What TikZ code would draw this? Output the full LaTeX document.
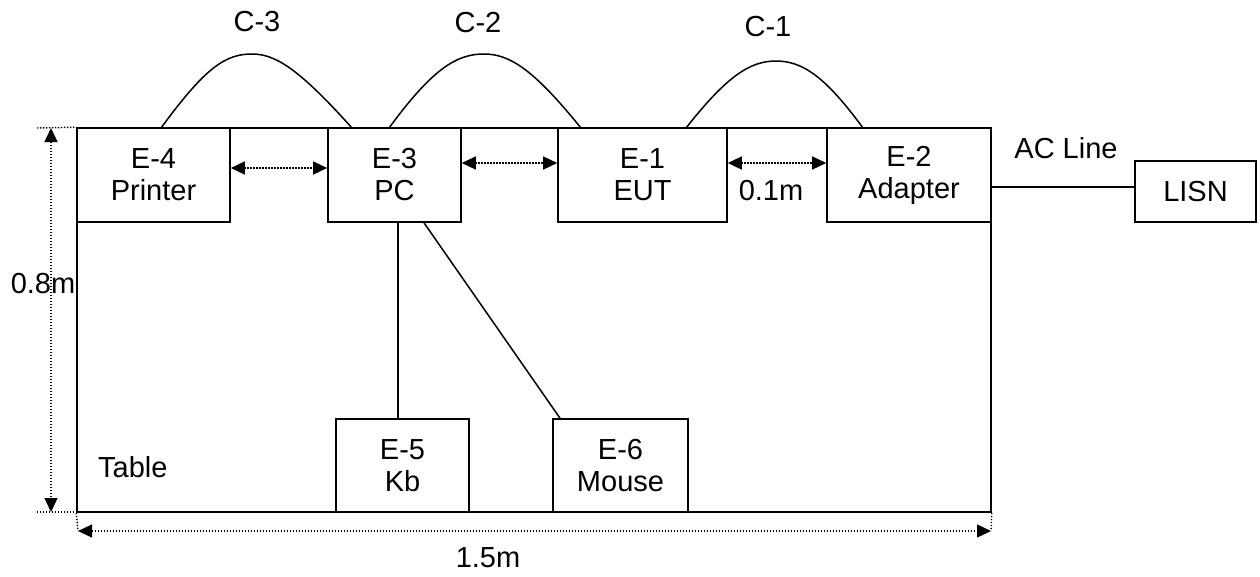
\documentclass[tikz,border=0pt]{standalone}
\usepackage{fontspec}
\setmainfont{Liberation Sans}
\usetikzlibrary{arrows.meta}
\begin{document}
\begin{tikzpicture}[x=1pt,y=-1pt,
  txt/.style={font=\fontsize{29}{32}\selectfont},
  box/.style={draw,line width=1.6pt,inner sep=0pt,align=center,txt},
  lbl/.style={inner sep=0pt,txt},
  dimline/.style={line width=1.4pt,dash pattern=on 1.4pt off 1.6pt},
  dimarrow/.style={dimline,{Triangle[length=14pt,width=13pt]}-{Triangle[length=14pt,width=13pt]}},
  cable/.style={line width=1.5pt}]
\useasboundingbox (0,0) rectangle (1260,576);
% table
\node[draw,line width=1.6pt,minimum width=914pt,minimum height=384pt,inner sep=0pt] (table) at (534,320) {};
% equipment boxes
\node[box,minimum width=153pt,minimum height=94pt] (e4) at (153.5,175) {E-4\\Printer};
\node[box,minimum width=133pt,minimum height=94pt] (e3) at (394.5,175) {E-3\\PC};
\node[box,minimum width=169pt,minimum height=94pt] (e1) at (642.5,175) {E-1\\EUT};
\node[box,minimum width=164pt,minimum height=94pt] (e2) at (909,175) {E-2\\Adapter};
\node[box,minimum width=121pt,minimum height=61pt] (lisn) at (1195.5,191.5) {LISN};
\node[box,minimum width=133pt,minimum height=93pt] (e5) at (402.5,465.5) {E-5\\Kb};
\node[box,minimum width=135pt,minimum height=93pt] (e6) at (620.5,465.5) {E-6\\Mouse};
% spacing arrows
\draw[dimarrow] ([yshift=7pt]e4.east) -- ([yshift=7pt]e3.west);
\draw[dimarrow] ([yshift=12pt]e3.east) -- ([yshift=12pt]e1.west);
\draw[dimarrow] ([yshift=12pt]e1.east) -- ([yshift=12pt]e2.west);
\node[lbl] (d01) at (771,191) {0.1m};
% keyboard / mouse cables
\draw[cable] ([xshift=3.5pt]e3.south) -- ([xshift=-4.5pt]e5.north);
\draw[cable] ([xshift=29.5pt]e3.south) -- ([xshift=-60.5pt]e6.north);
% AC line
\draw[cable] ([yshift=-12pt]e2.east) coordinate (acA) -- (acA -| lisn.west);
\node[lbl] (acl) at (1066,148) {AC Line};
% cables C-3, C-2, C-1
\coordinate (c3a) at (161,128); \coordinate (c3p) at (252,54); \coordinate (c3b) at (352,128);
\coordinate (c2a) at (389,128); \coordinate (c2p) at (484,54); \coordinate (c2b) at (581,128);
\coordinate (c1a) at (686,128); \coordinate (c1p) at (776,61); \coordinate (c1b) at (863,128);
\draw[cable] (c3a) .. controls (205,68) and (225,54) .. (c3p) .. controls (276,54) and (300,70) .. (c3b);
\draw[cable] (c2a) .. controls (433,68) and (457,54) .. (c2p) .. controls (510,54) and (534,70) .. (c2b);
\draw[cable] (c1a) .. controls (727,76) and (750,61) .. (c1p) .. controls (802,61) and (825,76) .. (c1b);
\node[lbl] (lc3) at (257,22) {C-3};
\node[lbl] (lc2) at (478,23) {C-2};
\node[lbl] (lc1) at (768,27) {C-1};
% height dimension
\coordinate (h1) at (37,128); \coordinate (h2) at (37,512); \coordinate (h3) at (107,512);
\draw[dimline] (h1) -- (table.north west);
\draw[dimline] (h2) -- (h3);
\coordinate (ha) at (51,128); \coordinate (hb) at (51,512);
\draw[dimarrow] (ha) -- (hb);
\node[lbl] (l08) at (43,284) {0.8m};
% width dimension
\coordinate (w1) at (78,531); \coordinate (w2) at (991,531);
\draw[dimline] (table.south west) -- (w1);
\draw[dimline] (table.south east) -- (w2);
\draw[dimarrow] (w1) -- (w2);
\node[lbl] (l15) at (488,558) {1.5m};
\node[lbl,anchor=west] (ltab) at (98,467) {Table};
\end{tikzpicture}
\end{document}
